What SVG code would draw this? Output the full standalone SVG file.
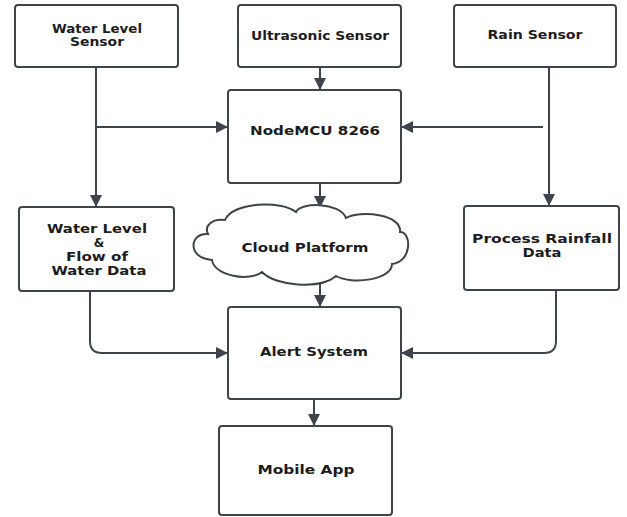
<svg xmlns="http://www.w3.org/2000/svg" width="627" height="517" viewBox="0 0 627 517">
<style>
.box{fill:#fff;stroke:#3f444c;stroke-width:2}
.ln{fill:none;stroke:#3f444c;stroke-width:2}
text{font-family:"DejaVu Sans","Liberation Sans",sans-serif;font-weight:bold;font-size:12px;fill:#1c1c1c;text-anchor:middle}
</style>
<defs>
<marker id="ah" viewBox="0 0 12 12" refX="11" refY="6" markerWidth="12" markerHeight="12" markerUnits="userSpaceOnUse" orient="auto">
<path d="M0,0 L12,6 L0,12 Z" fill="#3f444c"/>
</marker>
</defs>
<rect width="627" height="517" fill="#fff"/>
<g id="connectors">
<path class="ln" d="M320,67 V89" marker-end="url(#ah)"/>
<path class="ln" d="M96,67 V206" marker-end="url(#ah)"/>
<path class="ln" d="M96,127 H227" marker-end="url(#ah)"/>
<path class="ln" d="M549,67 V205" marker-end="url(#ah)"/>
<path class="ln" d="M543,127 H402" marker-end="url(#ah)"/>
<path class="ln" d="M320,183 V207" marker-end="url(#ah)"/>
<path class="ln" d="M320,282 V306" marker-end="url(#ah)"/>
<path class="ln" d="M90,291 V341 Q90,353 102,353 H227" marker-end="url(#ah)"/>
<path class="ln" d="M556,290 V341 Q556,353 544,353 H402" marker-end="url(#ah)"/>
<path class="ln" d="M314,399 V425" marker-end="url(#ah)"/>
</g>
<g id="water-level-sensor">
<rect class="box" x="15" y="5" width="163" height="62" rx="3"/>
<text x="97" y="33" textLength="90" lengthAdjust="spacingAndGlyphs">Water Level</text>
<text x="97" y="46" textLength="54" lengthAdjust="spacingAndGlyphs">Sensor</text>
</g>
<g id="ultrasonic-sensor">
<rect class="box" x="238" y="5" width="163" height="62" rx="3"/>
<text x="320" y="40" textLength="138" lengthAdjust="spacingAndGlyphs">Ultrasonic Sensor</text>
</g>
<g id="rain-sensor">
<rect class="box" x="454" y="5" width="162" height="62" rx="3"/>
<text x="535" y="39" textLength="95" lengthAdjust="spacingAndGlyphs">Rain Sensor</text>
</g>
<g id="nodemcu">
<rect class="box" x="228" y="90" width="173" height="93" rx="3"/>
<text x="315" y="135" textLength="130" lengthAdjust="spacingAndGlyphs">NodeMCU 8266</text>
</g>
<g id="water-data">
<rect class="box" x="19" y="207" width="155" height="84" rx="3"/>
<text x="97" y="233" textLength="100" lengthAdjust="spacingAndGlyphs">Water Level</text>
<text x="99" y="247">&amp;</text>
<text x="97" y="261" textLength="62" lengthAdjust="spacingAndGlyphs">Flow of</text>
<text x="99" y="275" textLength="95" lengthAdjust="spacingAndGlyphs">Water Data</text>
</g>
<g id="cloud-platform">
<path class="box" d="M208,234 C190,232 186,258 212,260 C214,276 250,282 262,272 C275,286 320,290 336,276 C352,285 392,280 392,264 C412,262 412,232 400,232 C402,214 360,210 346,218 C340,202 300,202 296,212 C282,200 232,202 225,220 C212,218 204,226 208,234 Z"/>
<text x="305" y="252" textLength="127" lengthAdjust="spacingAndGlyphs">Cloud Platform</text>
</g>
<g id="process-rainfall">
<rect class="box" x="464" y="206" width="155" height="84" rx="3"/>
<text x="542" y="243" textLength="140" lengthAdjust="spacingAndGlyphs">Process Rainfall</text>
<text x="542" y="257" textLength="39" lengthAdjust="spacingAndGlyphs">Data</text>
</g>
<g id="alert-system">
<rect class="box" x="228" y="307" width="173" height="92" rx="3"/>
<text x="314" y="356" textLength="108" lengthAdjust="spacingAndGlyphs">Alert System</text>
</g>
<g id="mobile-app">
<rect class="box" x="219" y="426" width="173" height="89" rx="3"/>
<text x="306" y="474" textLength="97" lengthAdjust="spacingAndGlyphs">Mobile App</text>
</g>
</svg>
